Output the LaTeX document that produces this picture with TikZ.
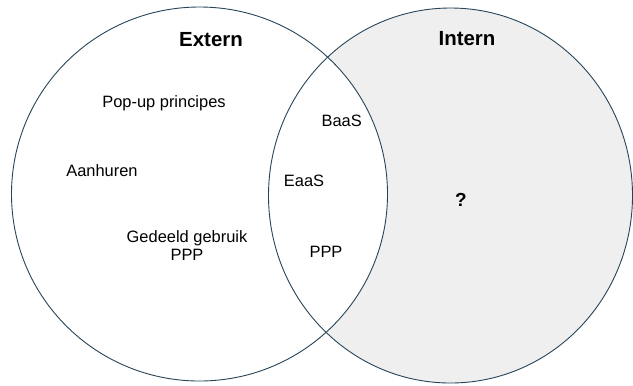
\documentclass[tikz,border=0pt]{standalone}
\usepackage{fontspec}
\setmainfont{Liberation Sans}
\definecolor{rim}{RGB}{40,68,88}
\definecolor{paneGrey}{RGB}{239,239,239}
\begin{document}
\begin{tikzpicture}[x=1bp,y=-1bp,
  rimline/.style={draw=rim,line width=0.9bp},
  label/.style={inner sep=0pt,anchor=base,font=\fontsize{16.5}{18}\selectfont},
  heading/.style={inner sep=0pt,anchor=base,font=\fontsize{20.5}{24}\selectfont\bfseries}]
\useasboundingbox (0,0) rectangle (633,385);
% right set in grey, overlap left white
\fill[fill=paneGrey] (450.5,195.5) ellipse [x radius=182bp, y radius=187.5bp];
\fill[fill=white] (199.5,194) ellipse [x radius=188bp, y radius=187bp];
\draw[rimline] (199.5,194) ellipse [x radius=188bp, y radius=187bp];
\draw[rimline] (450.5,195.5) ellipse [x radius=182bp, y radius=187.5bp];
% headings
\node[heading] (extern) at (211,46) {Extern};
\node[heading] (intern) at (467,45) {Intern};
% left-only items
\node[label] (popup) at (164,107.7) {Pop-up principes};
\node[label] (aanhuren) at (102,176.7) {Aanhuren};
\node[label,align=center] (gedeeld) at (187,260) {Gedeeld gebruik\\PPP};
% overlap items
\node[label] (baas) at (341.7,126) {BaaS};
\node[label] (eaas) at (304,186) {EaaS};
\node[label] (ppp) at (326,257.3) {PPP};
% right-only item
\node[heading,font=\fontsize{19}{22}\selectfont\bfseries] (unknown) at (461,206) {?};
\end{tikzpicture}
\end{document}
